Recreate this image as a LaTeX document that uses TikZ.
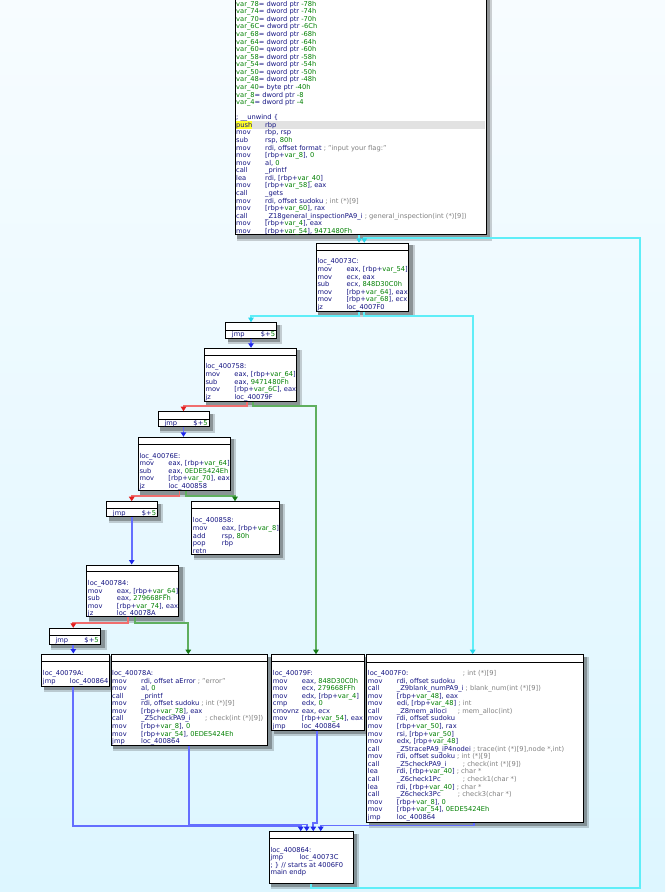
\documentclass[tikz,border=0pt]{standalone}
\usepackage{fontspec}
\setmainfont{DejaVu Sans}
\usetikzlibrary{arrows.meta,fit}
\definecolor{bgtop}{RGB}{247,252,255}
\definecolor{bgbot}{RGB}{221,246,255}
\definecolor{insn}{RGB}{20,20,130}
\definecolor{num}{RGB}{0,128,0}
\definecolor{cmt}{RGB}{128,128,128}
\definecolor{ecyan}{RGB}{95,238,248}
\definecolor{ecyanh}{RGB}{40,215,235}
\definecolor{eblue}{RGB}{100,110,255}
\definecolor{ebluh}{RGB}{30,40,235}
\definecolor{ered}{RGB}{240,110,110}
\definecolor{eredh}{RGB}{225,30,30}
\definecolor{egreen}{RGB}{95,175,95}
\definecolor{egreenh}{RGB}{20,120,20}
\definecolor{hlgray}{RGB}{226,226,226}
\definecolor{hlyel}{RGB}{255,255,40}
\newcommand\Num[1]{\textcolor{num}{#1}}
\newcommand\Cmt[1]{\textcolor{cmt}{#1}}
\newcommand\Var[1]{\textcolor{num}{var\_#1}}
\newcommand\Ins[2]{\makebox[29pt][l]{#1}#2}
\newcommand\InsW[3]{\makebox[#1pt][l]{#2}#3}
\newcommand\InsC[4]{\makebox[#1pt][l]{\makebox[29pt][l]{#2}#3}\textcolor{cmt}{#4}}
\newenvironment{asmcode}{\begin{minipage}[t]{300pt}\fontsize{6.7}{7.57}\selectfont\raggedright\leavevmode\color{insn}\ignorespaces}{\end{minipage}}
\tikzset{
  blk/.style={draw=black,line width=1pt,fill=white,inner sep=0pt},
  code/.style={anchor=base west,inner sep=0pt},
  ecy/.style={draw=ecyan,line width=1.8pt,-{Triangle[length=4.5pt,width=5.5pt,color=ecyanh]}},
  ebl/.style={draw=eblue,line width=1.8pt,-{Triangle[length=4.5pt,width=5.5pt,color=ebluh]}},
  erd/.style={draw=ered,line width=1.8pt,-{Triangle[length=4.5pt,width=5.5pt,color=eredh]}},
  egr/.style={draw=egreen,line width=1.8pt,-{Triangle[length=4.5pt,width=5.5pt,color=egreenh]}},
}
% name, x1, y1, x2, y2, header y
\newcommand\Blk[6]{%
  \fill[black,opacity=0.18] (#2+2,#3+2) rectangle (#4+6,#5+6);
  \fill[black,opacity=0.28] (#2+2,#3+2) rectangle (#4+4,#5+4);
  \node[blk,fit={(#2,#3) (#4,#5)}] (#1) {};
  \draw[line width=0.9pt] (#2,#6) -- (#4,#6);}
\begin{document}
\begin{tikzpicture}[x=1pt,y=-1pt]
\useasboundingbox (0,0) rectangle (665,892);
\shade[top color=bgtop,bottom color=bgbot] (0,0) rectangle (665,892);

% ---------- blocks ----------
\Blk{B0}{235}{-20}{486}{234.5}{-12}
\Blk{B1}{316}{243.3}{408.7}{311}{250.3}
\Blk{B2}{225.7}{322.7}{276.3}{338}{330}
\Blk{B3}{204.3}{348.3}{296.3}{401.3}{355}
\Blk{B4}{158.3}{411.7}{209.3}{426.7}{419}
\Blk{B5}{138.3}{437.3}{230}{490.7}{444}
\Blk{B6}{106.7}{501.7}{157.3}{516.7}{508.3}
\Blk{B7}{191.7}{501.7}{279.3}{554}{508.3}
\Blk{B8}{86.7}{565}{178.7}{616.7}{571.7}
\Blk{B9}{49.3}{628.3}{100.7}{644}{635}
\Blk{B10}{41.7}{654}{109}{686}{661}
\Blk{B11}{111}{654.7}{267.5}{745}{661}
\Blk{B12}{271.7}{654.7}{364.5}{730}{661.7}
\Blk{B13}{366.7}{654.7}{583}{822.3}{662}
\Blk{B14}{269.3}{831.7}{353.3}{883.3}{838.3}

% highlight of current line
\fill[hlgray] (235.6,121.2) rectangle (485.4,128.8);
\fill[hlyel] (235.6,121.2) rectangle (252,128.8);

% ---------- connectors ----------
\draw[ecy] (311,0 |- B14.south) |- (640,888.3) |- (364.3,237.6) -- (364.3,0 |- B1.north);
\draw[ecy] (359,0 |- B0.south) -- (359,0 |- B1.north);
\draw[ecy] (359,0 |- B1.south) |- (251,316) -- (251,0 |- B2.north);
\draw[ecy] (364.3,0 |- B1.south) |- (472.7,316) -- (472.7,0 |- B13.north);
\draw[ebl] (251,0 |- B2.south) -- (251,0 |- B3.north);
\draw[erd] (246.7,0 |- B3.south) |- (183.5,406) -- (183.5,0 |- B4.north);
\draw[egr] (253.3,0 |- B3.south) |- (316,406) -- (316,0 |- B12.north);
\draw[ebl] (183.5,0 |- B4.south) -- (183.5,0 |- B5.north);
\draw[erd] (179.5,0 |- B5.south) |- (131.7,495.7) -- (131.7,0 |- B6.north);
\draw[egr] (185.7,0 |- B5.south) |- (235,495.7) -- (235,0 |- B7.north);
\draw[ebl] (131.7,0 |- B6.south) -- (131.7,0 |- B8.north);
\draw[erd] (128.3,0 |- B8.south) |- (73.3,622.7) -- (73.3,0 |- B9.north);
\draw[egr] (135,0 |- B8.south) |- (188.3,622.7) -- (188.3,0 |- B11.north);
\draw[ebl] (73.3,0 |- B9.south) -- (73.3,0 |- B10.north);
\draw[ebl] (73.3,0 |- B10.south) |- (300.7,826) -- (300.7,0 |- B14.north);
\draw[ebl] (189,0 |- B11.south) |- (306.7,824.5) -- (306.7,0 |- B14.north);
\draw[ebl] (317.3,0 |- B12.south) |- (313.3,823) -- (313.3,0 |- B14.north);
\draw[ebl] (474.3,0 |- B13.south) |- (320.7,825.5) -- (320.7,0 |- B14.north);

% ---------- texts ----------
\node[code] (T0) at (236,6.2) {\begin{asmcode}
\Var{78}= dword ptr \Num{-78h}\\
\Var{74}= dword ptr \Num{-74h}\\
\Var{70}= dword ptr \Num{-70h}\\
\Var{6C}= dword ptr \Num{-6Ch}\\
\Var{68}= dword ptr \Num{-68h}\\
\Var{64}= dword ptr \Num{-64h}\\
\Var{60}= qword ptr \Num{-60h}\\
\Var{58}= dword ptr \Num{-58h}\\
\Var{54}= dword ptr \Num{-54h}\\
\Var{50}= qword ptr \Num{-50h}\\
\Var{48}= dword ptr \Num{-48h}\\
\Var{40}= byte ptr \Num{-40h}\\
\Var{8}= dword ptr \Num{-8}\\
\Var{4}= dword ptr \Num{-4}\\
\mbox{}\\
; \_\_unwind \{\\
\Ins{push}{rbp}\\
\Ins{mov}{rbp, rsp}\\
\Ins{sub}{rsp, \Num{80h}}\\
\Ins{mov}{rdi, offset format \Cmt{; "input your flag:"}}\\
\Ins{mov}{[rbp+\Var{8}], \Num{0}}\\
\Ins{mov}{al, \Num{0}}\\
\Ins{call}{\_printf}\\
\Ins{lea}{rdi, [rbp+\Var{40}]}\\
\Ins{mov}{[rbp+\Var{58}], eax}\\
\Ins{call}{\_gets}\\
\Ins{mov}{rdi, offset sudoku \Cmt{; int (*)[9]}}\\
\Ins{mov}{[rbp+\Var{60}], rax}\\
\Ins{call}{\_Z18general\_inspectionPA9\_i \Cmt{; general\_inspection(int (*)[9])}}\\
\Ins{mov}{[rbp+\Var{4}], eax}\\
\Ins{mov}{[rbp+\Var{54}], \Num{9471480Fh}}
\end{asmcode}};

\node[code] (T1) at (317.3,263.9) {\begin{asmcode}
loc\_40073C:\\
\Ins{mov}{eax, [rbp+\Var{54}]}\\
\Ins{mov}{ecx, eax}\\
\Ins{sub}{ecx, \Num{848D30C0h}}\\
\Ins{mov}{[rbp+\Var{64}], eax}\\
\Ins{mov}{[rbp+\Var{68}], ecx}\\
\Ins{jz}{loc\_4007F0}
\end{asmcode}};

\node[code] (T2) at (231.7,336.2) {\begin{asmcode}\Ins{jmp}{\$+\Num{5}}\end{asmcode}};

\node[code] (T3) at (205.3,368.9) {\begin{asmcode}
loc\_400758:\\
\Ins{mov}{eax, [rbp+\Var{64}]}\\
\Ins{sub}{eax, \Num{9471480Fh}}\\
\Ins{mov}{[rbp+\Var{6C}], eax}\\
\Ins{jz}{loc\_40079F}
\end{asmcode}};

\node[code] (T4) at (164.3,425.5) {\begin{asmcode}\Ins{jmp}{\$+\Num{5}}\end{asmcode}};

\node[code] (T5) at (139.3,458.2) {\begin{asmcode}
loc\_40076E:\\
\Ins{mov}{eax, [rbp+\Var{64}]}\\
\Ins{sub}{eax, \Num{0EDE5424Eh}}\\
\Ins{mov}{[rbp+\Var{70}], eax}\\
\Ins{jz}{loc\_400858}
\end{asmcode}};

\node[code] (T6) at (112.7,515.5) {\begin{asmcode}\Ins{jmp}{\$+\Num{5}}\end{asmcode}};

\node[code] (T7) at (192.7,522.9) {\begin{asmcode}
loc\_400858:\\
\Ins{mov}{eax, [rbp+\Var{8}]}\\
\Ins{add}{rsp, \Num{80h}}\\
\Ins{pop}{rbp}\\
retn
\end{asmcode}};

\node[code] (T8) at (87.7,585.5) {\begin{asmcode}
loc\_400784:\\
\Ins{mov}{eax, [rbp+\Var{64}]}\\
\Ins{sub}{eax, \Num{279668FFh}}\\
\Ins{mov}{[rbp+\Var{74}], eax}\\
\Ins{jz}{loc\_40078A}
\end{asmcode}};

\node[code] (T9) at (55.3,642.2) {\begin{asmcode}\Ins{jmp}{\$+\Num{5}}\end{asmcode}};

\node[code] (T10) at (42.7,675.5) {\begin{asmcode}
loc\_40079A:\\
\InsW{27}{jmp}{loc\_400864}
\end{asmcode}};

\node[code] (T11) at (112,675.5) {\begin{asmcode}
loc\_40078A:\\
\Ins{mov}{rdi, offset aError \Cmt{; "error"}}\\
\Ins{mov}{al, \Num{0}}\\
\Ins{call}{\_printf}\\
\Ins{mov}{rdi, offset sudoku \Cmt{; int (*)[9]}}\\
\Ins{mov}{[rbp+\Var{78}], eax}\\
\InsC{93}{call}{\_Z5checkPA9\_i}{; check(int (*)[9])}\\
\Ins{mov}{[rbp+\Var{8}], \Num{0}}\\
\Ins{mov}{[rbp+\Var{54}], \Num{0EDE5424Eh}}\\
\Ins{jmp}{loc\_400864}
\end{asmcode}};

\node[code] (T12) at (272.7,675.5) {\begin{asmcode}
loc\_40079F:\\
\Ins{mov}{eax, \Num{848D30C0h}}\\
\Ins{mov}{ecx, \Num{279668FFh}}\\
\Ins{mov}{edx, [rbp+\Var{4}]}\\
\Ins{cmp}{edx, \Num{0}}\\
\Ins{cmovnz}{eax, ecx}\\
\Ins{mov}{[rbp+\Var{54}], eax}\\
\Ins{jmp}{loc\_400864}
\end{asmcode}};

\node[code] (T13) at (367.7,675.5) {\begin{asmcode}
\makebox[95pt][l]{loc\_4007F0:}\Cmt{; int (*)[9]}\\
\Ins{mov}{rdi, offset sudoku}\\
\Ins{call}{\_Z9blank\_numPA9\_i \Cmt{; blank\_num(int (*)[9])}}\\
\Ins{mov}{[rbp+\Var{48}], eax}\\
\Ins{mov}{edi, [rbp+\Var{48}] \Cmt{; int}}\\
\InsC{90}{call}{\_Z8mem\_alloci}{; mem\_alloc(int)}\\
\Ins{mov}{rdi, offset sudoku}\\
\Ins{mov}{[rbp+\Var{50}], rax}\\
\Ins{mov}{rsi, [rbp+\Var{50}]}\\
\Ins{mov}{edx, [rbp+\Var{48}]}\\
\Ins{call}{\_Z5tracePA9\_iP4nodei \Cmt{; trace(int (*)[9],node *,int)}}\\
\Ins{mov}{rdi, offset sudoku \Cmt{; int (*)[9]}}\\
\InsC{95}{call}{\_Z5checkPA9\_i}{; check(int (*)[9])}\\
\Ins{lea}{rdi, [rbp+\Var{40}] \Cmt{; char *}}\\
\InsC{95}{call}{\_Z6check1Pc}{; check1(char *)}\\
\Ins{lea}{rdi, [rbp+\Var{40}] \Cmt{; char *}}\\
\InsC{90}{call}{\_Z6check3Pc}{; check3(char *)}\\
\Ins{mov}{[rbp+\Var{8}], \Num{0}}\\
\Ins{mov}{[rbp+\Var{54}], \Num{0EDE5424Eh}}\\
\Ins{jmp}{loc\_400864}
\end{asmcode}};

\node[code] (T14) at (270.3,852.2) {\begin{asmcode}
loc\_400864:\\
\Ins{jmp}{loc\_40073C}\\
; \} // starts at 4006F0\\
main endp
\end{asmcode}};
\end{tikzpicture}
\end{document}
